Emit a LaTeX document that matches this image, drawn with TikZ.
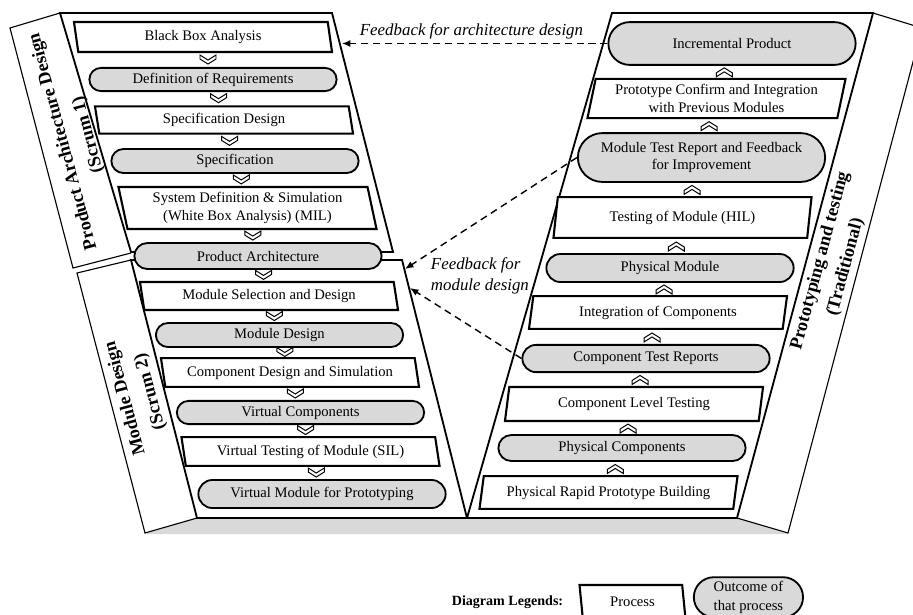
\documentclass[tikz,border=0pt]{standalone}
\usepackage{fontspec}
\setmainfont{Liberation Serif}
\usetikzlibrary{positioning}
\usetikzlibrary{shapes.geometric,shapes.misc}
\usetikzlibrary{decorations.markings}
\usetikzlibrary{arrows.meta}
\definecolor{outgray}{RGB}{217,217,217}

\begin{document}
\begin{tikzpicture}[x=0.025cm, y=-0.025cm, align=center, font=\fontsize{10.4}{12.4}\selectfont,
	procnode/.style={trapezium, trapezium stretches body, draw=black, line width=1.5pt, fill=white, minimum width=6.45cm, minimum height=0.72cm, inner sep=1pt},
	lproc/.style={procnode, trapezium left angle=105, trapezium right angle=75},
	rproc/.style={procnode, trapezium left angle=75, trapezium right angle=105},
	outnode/.style={rounded rectangle, draw=black, line width=1.3pt, fill=outgray, minimum width=6.25cm, minimum height=0.62cm, inner sep=1pt},
	chevdown/.style={decoration={markings, mark=at position 0.5 with {\pgftransformresetnontranslations
		\draw[line width=0.7pt, fill=white] (-8,-5) -- (0,0) -- (8,-5) -- (8,-1) -- (0,4) -- (-8,-1) -- cycle;}}, decorate},
	chevup/.style={decoration={markings, mark=at position 0.5 with {\pgftransformresetnontranslations
		\draw[line width=0.7pt, fill=white] (-8,5) -- (0,0) -- (8,5) -- (8,1) -- (0,-4) -- (-8,1) -- cycle;}}, decorate},
	fbline/.style={line width=1pt, dash pattern=on 5pt off 3.5pt, -{Latex[length=6pt,width=5pt]}},
	fbtext/.style={font=\fontsize{12}{14.5}\selectfont\itshape},
	lblnode/.style={font=\fontsize{13}{18.5}\selectfont\bfseries},
	panel/.style={line width=1.3pt},
	lblpanel/.style={line width=0.8pt}]
		\clip (0,0) rectangle (913,614);
		% base and panels
		\fill[outgray] (197,518) -- (737,518) -- (788,534) -- (145,534) -- cycle;
		\draw[panel] (131,252) -- (60,13) -- (332,13) -- (393,252) -- cycle;
		\draw[panel] (131,260) -- (197,518) -- (467,518) -- (402,260) -- cycle;
		\draw[panel] (612,13) -- (873,13) -- (737,518) -- (467,518) -- cycle;
		\draw[lblpanel] (60,13) -- (10,28) -- (73,268) -- (131,253);
		\draw[lblpanel] (131,260) -- (77,273) -- (145,533) -- (197,518);
		\draw[lblpanel] (873,13) -- (922,28) -- (788,533) -- (737,518);
		% left side
		\node[lproc, minimum height=0.75cm] (bba) at (203,37) {Black Box Analysis};
		\node[outnode, minimum height=0.58cm] (defreq) at (213,79.5) {Definition of Requirements};
		\node[lproc, minimum height=0.68cm] (specdes) at (224,120) {Specification Design};
		\node[outnode, minimum height=0.6cm] (spec) at (235,161) {Specification};
		\node[lproc, minimum height=1.05cm] (sysdef) at (247.5,208) {System Definition \& Simulation\\(White Box Analysis) (MIL)};
		\node[outnode, minimum height=0.65cm] (pa) at (258,256) {Product Architecture};
		\node[lproc, minimum height=0.7cm] (modsel) at (269,296) {Module Selection and Design};
		\node[outnode, minimum height=0.6cm] (moddes) at (279.5,335) {Module Design};
		\node[lproc, minimum height=0.72cm] (compdes) at (290,372.5) {Component Design and Simulation};
		\node[outnode, minimum height=0.58cm] (vircomp) at (300.5,412.5) {Virtual Components};
		\node[lproc, minimum height=0.72cm] (virtest) at (310.5,451.5) {Virtual Testing of Module (SIL)};
		\node[outnode, minimum height=0.7cm] (virmod) at (322,494) {Virtual Module for Prototyping};
		% right side
		\node[outnode, minimum height=1.07cm] (incprod) at (732,43.5) {Incremental Product};
		\node[rproc, minimum height=0.98cm] (protconf) at (716.5,98.5) {Prototype Confirm and Integration\\with Previous Modules};
		\node[outnode, minimum height=1.22cm] (modtest) at (701.5,157.5) {Module Test Report and Feedback\\for Improvement};
		\node[rproc, minimum height=1.02cm] (testmod) at (682.5,217.5) {Testing of Module (HIL)};
		\node[outnode, minimum height=0.7cm] (physmod) at (670,268) {Physical Module};
		\node[rproc, minimum height=0.82cm] (integ) at (658,312.5) {Integration of Components};
		\node[outnode, minimum height=0.68cm] (comptest) at (646,358.5) {Component Test Reports};
		\node[rproc, minimum height=0.85cm] (complev) at (634,404) {Component Level Testing};
		\node[outnode, minimum height=0.65cm] (physcomp) at (622,448) {Physical Components};
		\node[rproc, minimum height=0.82cm] (physrap) at (608.5,492.5) {Physical Rapid Prototype Building};
		% chevrons
		\foreach \a/\b in {bba/defreq, defreq/specdes, specdes/spec, spec/sysdef, sysdef/pa, pa/modsel, modsel/moddes, moddes/compdes, compdes/vircomp, vircomp/virtest, virtest/virmod}
			\path[chevdown] (\a.south) -- (\b.north);
		\foreach \a/\b in {physrap/physcomp, physcomp/complev, complev/comptest, comptest/integ, integ/physmod, physmod/testmod, testmod/modtest, modtest/protconf, protconf/incprod}
			\path[chevup] (\a.north) -- (\b.south);
		% feedback
		\coordinate (archin) at (342,43.5);
		\coordinate (modin1) at (405,269);
		\coordinate (modin2) at (410,288);
		\draw[fbline] (incprod.west) -- (archin);
		\draw[fbline] (modtest.west) -- (modin1);
		\draw[fbline] (comptest.west) -- (modin2);
		\node[fbtext] (fbarch) at (471.5,31) {Feedback for architecture design};
		\node[fbtext, anchor=west, align=left] (fbmod) at (426,276) {Feedback for\\module design};
		% phase labels
		\node[lblnode, rotate=105] (scrum1) at (76,138) {Product Architecture Design\\(Scrum 1)};
		\node[lblnode, rotate=105] (scrum2) at (138,395) {Module Design\\(Scrum 2)};
		\node[lblnode, rotate=75] (trad) at (833,264) {Prototyping and testing\\(Traditional)};
		% legend
		\node[font=\fontsize{10}{12}\selectfont\bfseries] (legend) at (507.5,602) {Diagram Legends:};
		\node[lproc, minimum width=2.65cm, minimum height=0.85cm, right=0.3cm of legend] (legproc) {Process};
		\node[outnode, minimum width=2.8cm, minimum height=1.0cm, right=0.2cm of legproc, yshift=0.12cm, font=\fontsize{10.4}{13.5}\selectfont] (legout) {Outcome of\\that process};
	\end{tikzpicture}
\end{document}
